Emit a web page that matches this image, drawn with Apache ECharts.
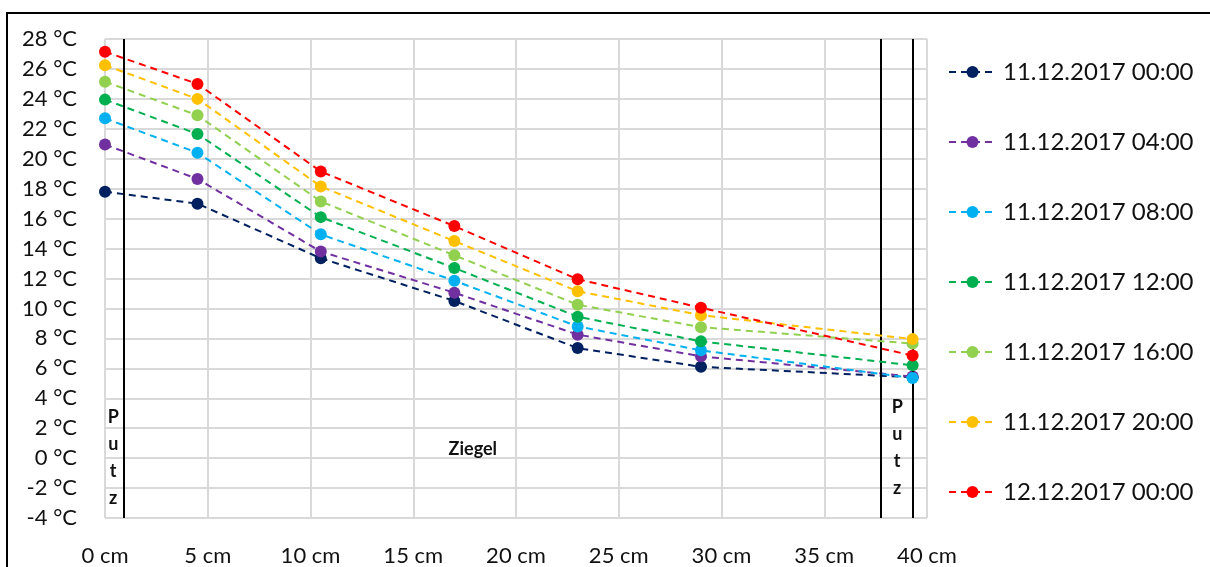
<!DOCTYPE html>
<html>
<head>
<meta charset="utf-8">
<script src="https://cdn.jsdelivr.net/npm/echarts@6/dist/echarts.min.js"></script>
<style>
html,body{margin:0;padding:0;background:#fff;}
#chart{width:1210px;height:567px;}
</style>
</head>
<body>
<div id="chart"></div>
<script>
// Depth positions in cm
const positions = [0, 4.5, 10.5, 17, 23, 29, 39.3];
const seriesNames = [
  '11.12.2017 00:00', '11.12.2017 04:00', '11.12.2017 08:00', '11.12.2017 12:00',
  '11.12.2017 16:00', '11.12.2017 20:00', '12.12.2017 00:00'
];
const t0000 = [17.8, 17.0, 13.35, 10.5, 7.35, 6.1, 5.4];
const t0400 = [20.95, 18.65, 13.8, 11.05, 8.25, 6.8, 5.45];
const t0800 = [22.7, 20.4, 14.95, 11.85, 8.8, 7.2, 5.35];
const t1200 = [23.95, 21.65, 16.1, 12.7, 9.45, 7.8, 6.2];
const t1600 = [25.15, 22.9, 17.15, 13.55, 10.25, 8.75, 7.65];
const t2000 = [26.25, 24.0, 18.15, 14.5, 11.15, 9.55, 7.95];
const t2400 = [27.15, 25.0, 19.15, 15.5, 11.95, 10.05, 6.85];
const colors = ['#002060', '#7030A0', '#00B0F0', '#00B050', '#92D050', '#FFC000', '#FF0000'];
const yTicks = {min: -4, max: 28, step: 2};
const xTicks = {min: 0, max: 40, step: 5};
// layer boundaries (cm)
const boundaries = [0.9, 37.75, 39.3];
const layerLabels = [
  {text: 'P\nu\nt\nz', x: 0.4, y: 0.0},
  {text: 'Ziegel', x: 17.9, y: 0.6},
  {text: 'P\nu\nt\nz', x: 38.55, y: 0.7}
];

const allValues = [t0000, t0400, t0800, t1200, t1600, t2000, t2400];
const FONT = 'Lato, "Open Sans", sans-serif';

const chart = echarts.init(document.getElementById('chart'), null, {renderer: 'canvas'});

const series = allValues.map((vals, i) => ({
  name: seriesNames[i],
  type: 'line',
  data: positions.map((p, j) => [p, vals[j]]),
  symbol: 'circle',
  symbolSize: 12,
  showSymbol: true,
  itemStyle: {color: colors[i]},
  lineStyle: {color: colors[i], width: 2, type: [7, 5]},
  z: 3 + i,
  animation: false
}));

series.push({
  name: '_bounds',
  type: 'line',
  data: [],
  silent: true,
  markLine: {
    symbol: ['none', 'none'],
    silent: true,
    label: {show: false},
    lineStyle: {color: '#000', width: 2, type: 'solid'},
    data: boundaries.map(b => ({xAxis: b}))
  },
  z: 2,
  animation: false
});

chart.setOption({
  animation: false,
  backgroundColor: '#fff',
  grid: {left: 105, right: 283, top: 39, bottom: 48, containLabel: false},
  xAxis: {
    type: 'value',
    min: xTicks.min, max: xTicks.max, interval: xTicks.step,
    axisLine: {show: true, lineStyle: {color: '#d9d9d9', width: 2}},
    axisTick: {show: false},
    splitLine: {show: true, lineStyle: {color: '#d9d9d9', width: 2}},
    axisLabel: {formatter: '{value} cm', fontSize: 22, color: '#111', fontFamily: FONT, margin: 27}
  },
  yAxis: {
    type: 'value',
    min: yTicks.min, max: yTicks.max, interval: yTicks.step,
    axisLine: {show: false},
    axisTick: {show: false},
    splitLine: {show: true, lineStyle: {color: '#d9d9d9', width: 2}},
    axisLabel: {formatter: '{value} °C', fontSize: 22, color: '#111', fontFamily: FONT, margin: 28}
  },
  legend: {
    orient: 'vertical',
    left: 943,
    top: 52,
    itemWidth: 47,
    itemHeight: 15,
    itemGap: 40,
    data: seriesNames,
    textStyle: {fontSize: 24, color: '#111', fontFamily: FONT, lineHeight: 30, padding: [0, 0, 0, 2]}
  },
  series: series
});

// annotations and frame
const graphics = layerLabels.map(l => {
  const p = chart.convertToPixel({gridIndex: 0}, [l.x, l.y]);
  return {
    type: 'text',
    x: p[0], y: p[1],
    style: {
      text: l.text,
      fontSize: 18,
      fontWeight: 'bold',
      fontFamily: FONT,
      fill: '#111',
      align: 'center',
      verticalAlign: 'middle',
      lineHeight: 27
    },
    z: 10
  };
});
graphics.push({
  type: 'rect',
  shape: {x: 7, y: 13, width: 1230, height: 600},
  style: {fill: 'none', stroke: '#000', lineWidth: 2},
  z: 20
});
chart.setOption({graphic: graphics});
</script>
</body>
</html>
